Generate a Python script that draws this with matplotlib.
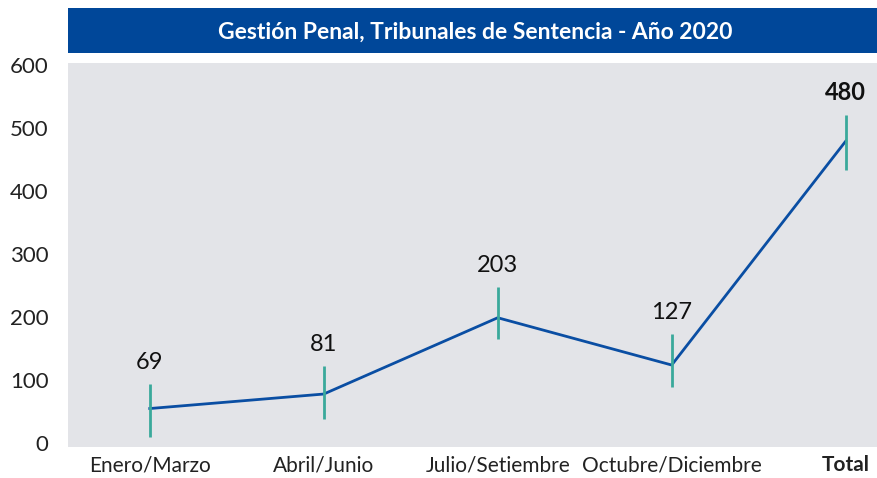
import matplotlib.pyplot as plt
from matplotlib.patches import Rectangle

periods     = ["Enero/Marzo", "Abril/Junio", "Julio/Setiembre", "Octubre/Diciembre", "Total"]
line_values = [55, 78, 199, 124, 479]
bar_low     = [10, 38, 166, 89, 433]
bar_high    = [94, 123, 248, 173, 520]
labels      = ["69", "81", "203", "127", "480"]
yticks      = [0, 100, 200, 300, 400, 500, 600]

plt.rcParams['font.family'] = ['Lato', 'DejaVu Sans']

fig = plt.figure(figsize=(8.77, 4.78), dpi=100)
ax  = fig.add_axes([68/877, 31/478, 809/877, 384/478])
ax.set_facecolor("#e3e4e8")

# title banner
fig.patches.append(Rectangle((68/877, 425/478), 809/877, 45/478, transform=fig.transFigure,
                             facecolor="#004799", edgecolor="none"))
fig.text(475/877, 446/478, "Gestión Penal, Tribunales de Sentencia - Año 2020",
         color="white", fontsize=16.5, fontweight="bold", ha="center", va="center")

x = list(range(len(periods)))
ax.plot(x, line_values, color="#0a4ea3", linewidth=2, zorder=3)
ax.vlines(x, bar_low, bar_high, color="#3aa99b", linewidth=2, zorder=4)

for i in x:
    weight = "bold" if i == len(periods) - 1 else "normal"
    ax.annotate(labels[i], (x[i], bar_high[i]), xytext=(0, 8), textcoords="offset points",
                ha="center", va="bottom", fontsize=17, fontweight=weight, color="#111111")

ax.set_xlim(-0.47, 4.18)
ax.set_ylim(-6, 603)
ax.set_yticks(yticks)
ax.set_yticklabels([str(v) for v in yticks], fontsize=16, color="#222222")
ax.set_xticks(x)
ax.set_xticklabels(periods, fontsize=15, color="#222222")
ax.get_xticklabels()[-1].set_fontweight("bold")
ax.tick_params(axis="x", length=0, pad=6)
ax.tick_params(axis="y", length=0, pad=14)
for s in ax.spines.values():
    s.set_visible(False)

plt.savefig("out.png", dpi=100)
